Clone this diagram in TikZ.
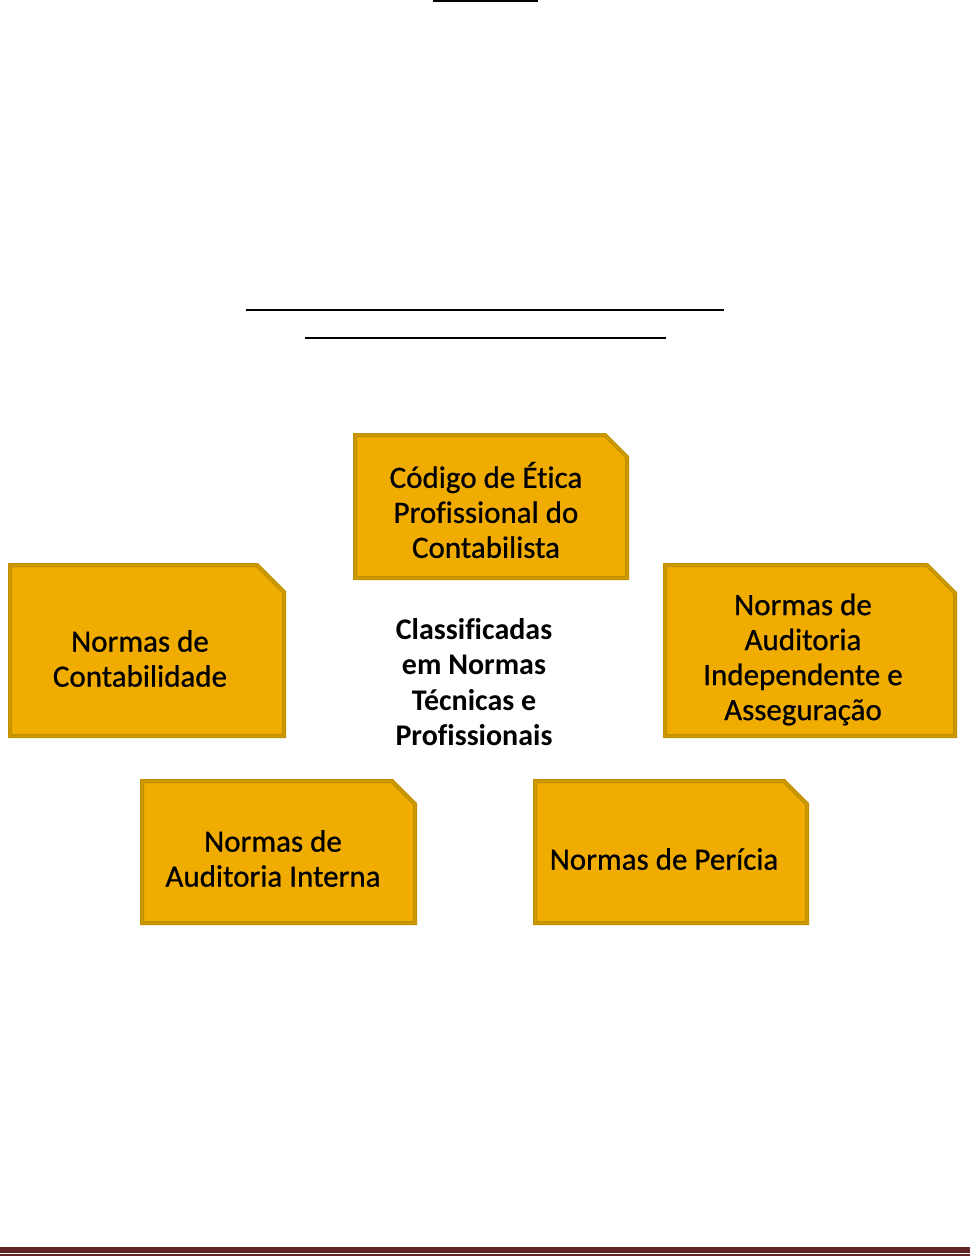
\documentclass[tikz,border=0pt]{standalone}
\usepackage{fontspec}
\setmainfont[Ligatures=NoCommon]{Carlito}
\newfontfamily\cardfont[Ligatures=NoCommon,FakeBold=0.7]{Carlito}
\definecolor{goldfill}{HTML}{F0AC00}
\definecolor{goldedge}{HTML}{C09000}
\definecolor{goldinner}{HTML}{D9A000}
\definecolor{darkred}{HTML}{632423}
\tikzset{
  x=1pt, y=-1pt,
  cardshape/.style={fill=goldfill, draw=goldedge, line width=4pt, line join=miter},
  cardinner/.style={draw=goldinner, line width=1pt},
  cardtext/.style={align=center, inner sep=0pt, font=\cardfont\fontsize{31}{35}\selectfont, text=black},
  centre/.style={align=center, font=\bfseries\fontsize{30}{35.5}\selectfont, inner sep=0pt},
  rule/.style={line width=2pt, black}
}
% x1 y1 (outer top-left), x2 y2 (outer bottom-right), snip
\newcommand\cardbox[5]{%
  \filldraw[cardshape] ({#1+2},{#2+2}) -- ({#3-2-#5},{#2+2}) -- ({#3-2},{#2+2+#5}) -- ({#3-2},{#4-2}) -- ({#1+2},{#4-2}) -- cycle;
  \draw[cardinner] ({#1+2},{#2+2}) -- ({#3-2-#5},{#2+2}) -- ({#3-2},{#2+2+#5}) -- ({#3-2},{#4-2}) -- ({#1+2},{#4-2}) -- cycle;
}
\begin{document}
\begin{tikzpicture}
\useasboundingbox (0,0) rectangle (970,1256);
\fill[white] (0,0) rectangle (970,1256);
% rules
\coordinate (t1) at (433,1); \coordinate (t2) at (538,1);
\draw[rule] (t1) -- (t2);
\coordinate (a1) at (246,310); \coordinate (a2) at (724,310);
\draw[rule] (a1) -- (a2);
\coordinate (b1) at (305,337.5); \coordinate (b2) at (666,337.5);
\draw[rule] (b1) -- (b2);
% cards
\cardbox{353}{433}{629}{580}{22}
\cardbox{8}{563}{286}{738}{27}
\cardbox{663}{563}{957}{738}{28}
\cardbox{140}{779}{417}{925}{23}
\cardbox{533}{779}{809}{925}{23}
\node[cardtext] (etica) at (486,510) {C\'odigo de \'Etica\\Profissional do\\Contabilista};
\node[cardtext] (contab) at (140,658.5) {Normas de\\Contabilidade};
\node[cardtext] (indep) at (803,659.5) {Normas de\\Auditoria\\Independente e\\Assegura\c{c}\~ao};
\node[cardtext] (interna) at (273,858.5) {Normas de\\Auditoria Interna};
\node[cardtext] (pericia) at (664,859) {Normas de Per\'icia};
% centre text
\node[centre] (classif) at (474,682) {Classificadas\\em Normas\\T\'ecnicas e\\Profissionais};
% bottom band
\fill[darkred] (0,1247) rectangle (970,1253);
\fill[darkred] (0,1254) rectangle (970,1256);
\end{tikzpicture}
\end{document}
